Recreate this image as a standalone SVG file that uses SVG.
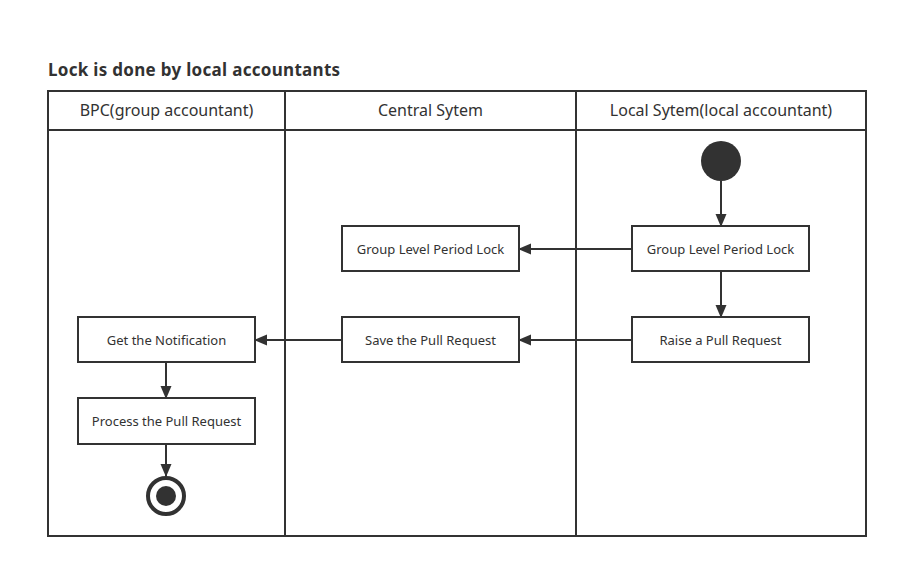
<svg xmlns="http://www.w3.org/2000/svg" width="899" height="569" viewBox="0 0 899 569">
<style>
text{font-family:"Noto Sans","Open Sans","Liberation Sans",sans-serif;fill:#323232}
.lbl{font-size:13px;text-anchor:middle}
.hdr{font-size:16px;text-anchor:middle}
.box{fill:#fff;stroke:#323232;stroke-width:2}
.lane{fill:none;stroke:#323232;stroke-width:2}
.edge{stroke:#323232;stroke-width:2;fill:none;marker-end:url(#ah)}
</style>
<defs>
<marker id="ah" viewBox="0 0 13 13" refX="12" refY="6.5" markerWidth="13" markerHeight="13" markerUnits="userSpaceOnUse" orient="auto">
<path d="M0,1 L13,6.5 L0,12 Z" fill="#323232"/>
</marker>
</defs>
<rect width="899" height="569" fill="#fff"/>
<text x="48" y="76" style="font-size:17px;font-weight:bold;letter-spacing:0.3px">Lock is done by local accountants</text>
<g id="pool">
<rect class="lane" x="48" y="91" width="818" height="445"/>
<line class="lane" x1="48" y1="130" x2="866" y2="130"/>
<line class="lane" x1="285" y1="91" x2="285" y2="536"/>
<line class="lane" x1="576" y1="91" x2="576" y2="536"/>
<text class="hdr" x="166.5" y="116">BPC(group accountant)</text>
<text class="hdr" x="430.5" y="116">Central Sytem</text>
<text class="hdr" x="721" y="116">Local Sytem(local accountant)</text>
</g>
<g id="edges">
<line class="edge" x1="721" y1="181" x2="721" y2="226"/>
<line class="edge" x1="632" y1="249" x2="519" y2="249"/>
<line class="edge" x1="721" y1="271" x2="721" y2="317"/>
<line class="edge" x1="632" y1="340" x2="519" y2="340"/>
<line class="edge" x1="342" y1="340" x2="255" y2="340"/>
<line class="edge" x1="166" y1="362" x2="166" y2="398"/>
<line class="edge" x1="166" y1="444" x2="166" y2="476"/>
</g>
<g id="start"><circle cx="721" cy="161" r="20" fill="#323232"/></g>
<g id="local-lock"><rect class="box" x="632" y="226" width="177" height="45"/><text class="lbl" x="720.5" y="253.5">Group Level Period Lock</text></g>
<g id="raise-pr"><rect class="box" x="632" y="317" width="177" height="45"/><text class="lbl" x="720.5" y="344.5">Raise a Pull Request</text></g>
<g id="central-lock"><rect class="box" x="342" y="226" width="177" height="45"/><text class="lbl" x="430.5" y="253.5">Group Level Period Lock</text></g>
<g id="save-pr"><rect class="box" x="342" y="317" width="177" height="45"/><text class="lbl" x="430.5" y="344.5">Save the Pull Request</text></g>
<g id="notify"><rect class="box" x="78" y="317" width="177" height="45"/><text class="lbl" x="166.5" y="344.5">Get the Notification</text></g>
<g id="process"><rect class="box" x="78" y="398" width="177" height="46"/><text class="lbl" x="166.5" y="425.5">Process the Pull Request</text></g>
<g id="end"><circle cx="166" cy="496" r="18" fill="#fff" stroke="#323232" stroke-width="4"/><circle cx="166" cy="496" r="10" fill="#323232"/></g>
</svg>
